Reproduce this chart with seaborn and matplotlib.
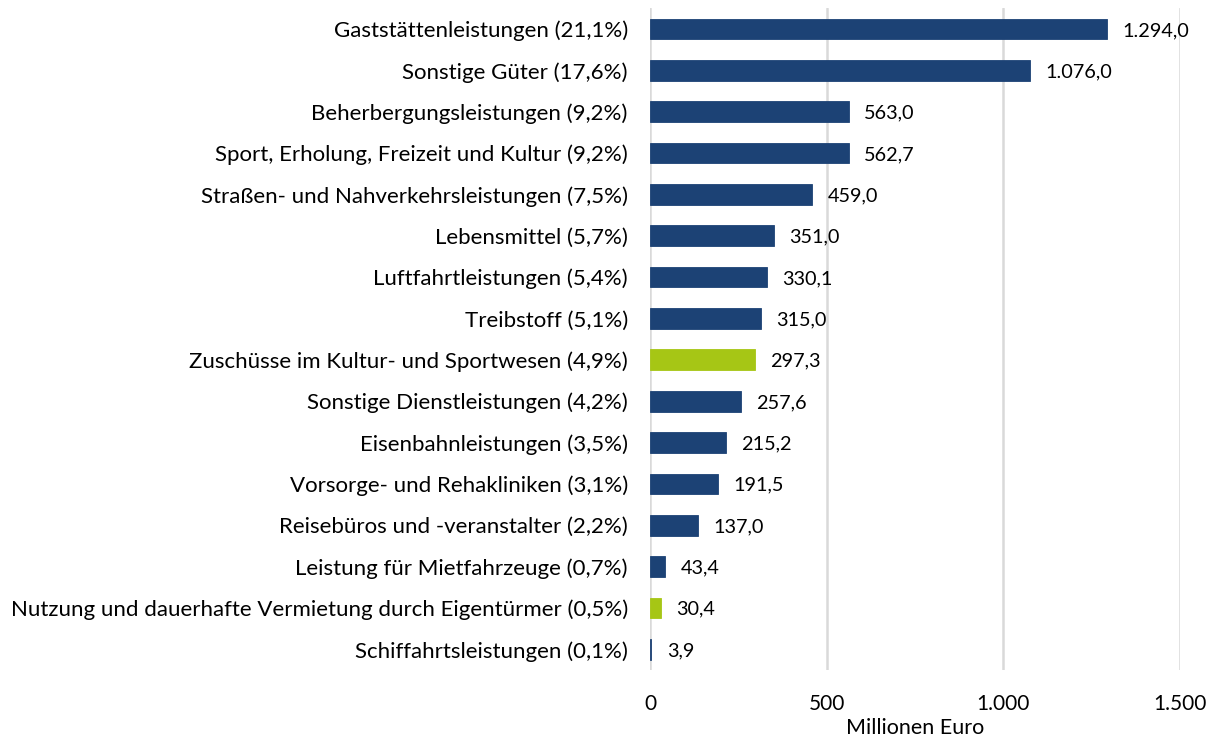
import matplotlib
matplotlib.use("Agg")
import matplotlib.pyplot as plt
import seaborn as sns
import pandas as pd

categories = [
    "Gaststättenleistungen (21,1%)",
    "Sonstige Güter (17,6%)",
    "Beherbergungsleistungen (9,2%)",
    "Sport, Erholung, Freizeit und Kultur (9,2%)",
    "Straßen- und Nahverkehrsleistungen (7,5%)",
    "Lebensmittel (5,7%)",
    "Luftfahrtleistungen (5,4%)",
    "Treibstoff (5,1%)",
    "Zuschüsse im Kultur- und Sportwesen (4,9%)",
    "Sonstige Dienstleistungen (4,2%)",
    "Eisenbahnleistungen (3,5%)",
    "Vorsorge- und Rehakliniken (3,1%)",
    "Reisebüros und -veranstalter (2,2%)",
    "Leistung für Mietfahrzeuge (0,7%)",
    "Nutzung und dauerhafte Vermietung durch Eigentürmer (0,5%)",
    "Schiffahrtsleistungen (0,1%)",
]
values = [1294.0, 1076.0, 563.0, 562.7, 459.0, 351.0, 330.1, 315.0,
          297.3, 257.6, 215.2, 191.5, 137.0, 43.4, 30.4, 3.9]
groups = ["a", "a", "a", "a", "a", "a", "a", "a",
          "b", "a", "a", "a", "a", "a", "b", "a"]
xticks = [0, 500, 1000, 1500]
xticklabels = ["0", "500", "1.000", "1.500"]
xlabel = "Millionen Euro"

df = pd.DataFrame({"cat": categories, "val": values, "grp": groups})

sns.set_theme(style="white")
plt.rcParams["font.family"] = ["Lato", "DejaVu Sans"]

fig = plt.figure(figsize=(12.15, 7.36), dpi=100)
ax = fig.add_axes([0.535, 0.0897, 0.436, 0.899])

pal = {"a": "#1C4275", "b": "#A6C615"}
sns.barplot(data=df, y="cat", x="val", hue="grp", orient="h",
            palette=pal, width=0.5, dodge=False, legend=False, ax=ax,
            saturation=1, linewidth=0)

# thin outline so the tiny bar stays visible
for p in ax.patches:
    p.set_edgecolor(p.get_facecolor())
    p.set_linewidth(0.6)

ax.set_xlim(0, 1500)
ax.set_ylim(15.5, -0.5)
ax.set_xticks(xticks)
ax.set_xticklabels(xticklabels)
ax.xaxis.grid(True, color="#D9D9D9", linewidth=1.8)
ax.set_axisbelow(True)
for s in ax.spines.values():
    s.set_visible(False)
ax.tick_params(axis="x", length=0, pad=17, labelsize=15, colors="black")
ax.tick_params(axis="y", length=0, pad=16, labelsize=16, colors="black")
ax.set_ylabel("")
ax.set_xlabel(xlabel, fontsize=15.5, labelpad=3, color="black")

for i, v in enumerate(values):
    lab = f"{v:,.1f}".replace(",", "X").replace(".", ",").replace("X", ".")
    ax.annotate(lab, xy=(v, i), xytext=(11, -1), textcoords="offset points",
                va="center", ha="left", fontsize=14.3, color="black")

fig.savefig("out.png", dpi=100)
